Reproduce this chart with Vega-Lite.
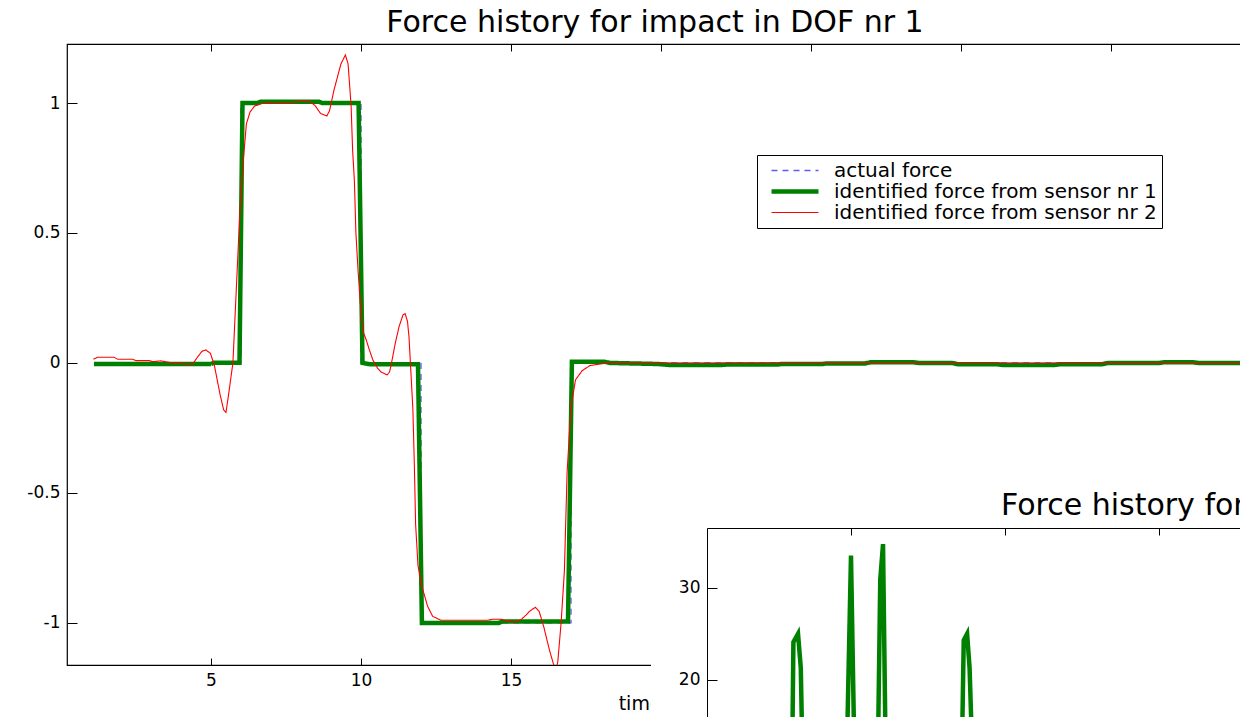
{
  "$schema": "https://vega.github.io/schema/vega-lite/v6.json",
  "background": "white",
  "padding": {"left": 26, "top": 7, "right": 0, "bottom": 0},
  "width": 1176,
  "height": 621,
  "title": {"text": "Force history for impact in DOF nr 1", "offset": 6, "font": "DejaVu Sans", "fontSize": 30, "fontWeight": "normal", "color": "black"},
  "config": {
    "font": "DejaVu Sans",
    "view": {"stroke": "black", "strokeWidth": 1.2},
    "axis": {"labelFont": "DejaVu Sans", "labelFontSize": 17, "labelColor": "black", "tickColor": "black", "domainColor": "black", "titleFont": "DejaVu Sans", "titleFontSize": 19, "titleFontWeight": "normal", "titleColor": "black", "grid": false, "tickWidth": 1}
  },
  "datasets": {
    "main": [
      {"s": "actual force", "t": 1.1, "f": 0},
      {"s": "actual force", "t": 6, "f": 0},
      {"s": "actual force", "t": 6, "f": 1},
      {"s": "actual force", "t": 10, "f": 1},
      {"s": "actual force", "t": 10, "f": 0},
      {"s": "actual force", "t": 12, "f": 0},
      {"s": "actual force", "t": 12, "f": -1},
      {"s": "actual force", "t": 17, "f": -1},
      {"s": "actual force", "t": 17, "f": 0},
      {"s": "actual force", "t": 40, "f": 0},

      {"s": "identified force from sensor nr 1", "t": 1.1, "f": -0.004},
      {"s": "identified force from sensor nr 1", "t": 5.0, "f": -0.004},
      {"s": "identified force from sensor nr 1", "t": 5.1, "f": 0.001},
      {"s": "identified force from sensor nr 1", "t": 5.95, "f": 0.001},
      {"s": "identified force from sensor nr 1", "t": 6.05, "f": 1.0},
      {"s": "identified force from sensor nr 1", "t": 6.55, "f": 1.0},
      {"s": "identified force from sensor nr 1", "t": 6.65, "f": 1.005},
      {"s": "identified force from sensor nr 1", "t": 8.6, "f": 1.005},
      {"s": "identified force from sensor nr 1", "t": 8.7, "f": 1.0},
      {"s": "identified force from sensor nr 1", "t": 9.92, "f": 1.0},
      {"s": "identified force from sensor nr 1", "t": 10.05, "f": 0.0},
      {"s": "identified force from sensor nr 1", "t": 10.3, "f": -0.005},
      {"s": "identified force from sensor nr 1", "t": 11.9, "f": -0.005},
      {"s": "identified force from sensor nr 1", "t": 12.03, "f": -1.0},
      {"s": "identified force from sensor nr 1", "t": 14.6, "f": -1.0},
      {"s": "identified force from sensor nr 1", "t": 14.7, "f": -0.995},
      {"s": "identified force from sensor nr 1", "t": 16.9, "f": -0.995},
      {"s": "identified force from sensor nr 1", "t": 17.03, "f": 0.005},
      {"s": "identified force from sensor nr 1", "t": 18.1, "f": 0.005},
      {"s": "identified force from sensor nr 1", "t": 18.3, "f": 0.0},
      {"s": "identified force from sensor nr 1", "t": 19.9, "f": -0.004},
      {"s": "identified force from sensor nr 1", "t": 20.3, "f": -0.008},
      {"s": "identified force from sensor nr 1", "t": 22.0, "f": -0.008},
      {"s": "identified force from sensor nr 1", "t": 22.2, "f": -0.006},
      {"s": "identified force from sensor nr 1", "t": 23.9, "f": -0.006},
      {"s": "identified force from sensor nr 1", "t": 24.0, "f": -0.004},
      {"s": "identified force from sensor nr 1", "t": 25.4, "f": -0.004},
      {"s": "identified force from sensor nr 1", "t": 25.5, "f": -0.002},
      {"s": "identified force from sensor nr 1", "t": 26.8, "f": -0.002},
      {"s": "identified force from sensor nr 1", "t": 27.0, "f": 0.003},
      {"s": "identified force from sensor nr 1", "t": 28.4, "f": 0.003},
      {"s": "identified force from sensor nr 1", "t": 28.6, "f": 0.0},
      {"s": "identified force from sensor nr 1", "t": 29.7, "f": 0.0},
      {"s": "identified force from sensor nr 1", "t": 29.9, "f": -0.005},
      {"s": "identified force from sensor nr 1", "t": 31.2, "f": -0.005},
      {"s": "identified force from sensor nr 1", "t": 31.4, "f": -0.008},
      {"s": "identified force from sensor nr 1", "t": 33.1, "f": -0.008},
      {"s": "identified force from sensor nr 1", "t": 33.3, "f": -0.005},
      {"s": "identified force from sensor nr 1", "t": 34.7, "f": -0.005},
      {"s": "identified force from sensor nr 1", "t": 34.9, "f": 0.0},
      {"s": "identified force from sensor nr 1", "t": 36.6, "f": 0.0},
      {"s": "identified force from sensor nr 1", "t": 36.8, "f": 0.003},
      {"s": "identified force from sensor nr 1", "t": 37.7, "f": 0.003},
      {"s": "identified force from sensor nr 1", "t": 37.9, "f": 0.0},
      {"s": "identified force from sensor nr 1", "t": 40, "f": 0.0},

      {"s": "identified force from sensor nr 2", "t": 1.08, "f": 0.014},
      {"s": "identified force from sensor nr 2", "t": 1.22, "f": 0.022},
      {"s": "identified force from sensor nr 2", "t": 1.77, "f": 0.022},
      {"s": "identified force from sensor nr 2", "t": 1.89, "f": 0.014},
      {"s": "identified force from sensor nr 2", "t": 2.39, "f": 0.014},
      {"s": "identified force from sensor nr 2", "t": 2.5, "f": 0.009},
      {"s": "identified force from sensor nr 2", "t": 2.94, "f": 0.009},
      {"s": "identified force from sensor nr 2", "t": 3.06, "f": 0.005},
      {"s": "identified force from sensor nr 2", "t": 3.33, "f": 0.008},
      {"s": "identified force from sensor nr 2", "t": 3.67, "f": 0.001},
      {"s": "identified force from sensor nr 2", "t": 3.89, "f": 0.0},
      {"s": "identified force from sensor nr 2", "t": 4.17, "f": -0.005},
      {"s": "identified force from sensor nr 2", "t": 4.39, "f": -0.004},
      {"s": "identified force from sensor nr 2", "t": 4.56, "f": 0.024},
      {"s": "identified force from sensor nr 2", "t": 4.7, "f": 0.045},
      {"s": "identified force from sensor nr 2", "t": 4.83, "f": 0.05},
      {"s": "identified force from sensor nr 2", "t": 4.98, "f": 0.037},
      {"s": "identified force from sensor nr 2", "t": 5.11, "f": -0.008},
      {"s": "identified force from sensor nr 2", "t": 5.3, "f": -0.12},
      {"s": "identified force from sensor nr 2", "t": 5.42, "f": -0.18},
      {"s": "identified force from sensor nr 2", "t": 5.5, "f": -0.19},
      {"s": "identified force from sensor nr 2", "t": 5.6, "f": -0.11},
      {"s": "identified force from sensor nr 2", "t": 5.73, "f": 0.0},
      {"s": "identified force from sensor nr 2", "t": 5.85, "f": 0.3},
      {"s": "identified force from sensor nr 2", "t": 5.97, "f": 0.6},
      {"s": "identified force from sensor nr 2", "t": 6.07, "f": 0.77},
      {"s": "identified force from sensor nr 2", "t": 6.18, "f": 0.92},
      {"s": "identified force from sensor nr 2", "t": 6.3, "f": 0.965},
      {"s": "identified force from sensor nr 2", "t": 6.45, "f": 0.988},
      {"s": "identified force from sensor nr 2", "t": 6.7, "f": 0.998},
      {"s": "identified force from sensor nr 2", "t": 7.5, "f": 1.0},
      {"s": "identified force from sensor nr 2", "t": 8.1, "f": 1.008},
      {"s": "identified force from sensor nr 2", "t": 8.3, "f": 1.005},
      {"s": "identified force from sensor nr 2", "t": 8.47, "f": 0.99},
      {"s": "identified force from sensor nr 2", "t": 8.65, "f": 0.96},
      {"s": "identified force from sensor nr 2", "t": 8.86, "f": 0.95},
      {"s": "identified force from sensor nr 2", "t": 8.95, "f": 0.97},
      {"s": "identified force from sensor nr 2", "t": 9.1, "f": 1.05},
      {"s": "identified force from sensor nr 2", "t": 9.33, "f": 1.15},
      {"s": "identified force from sensor nr 2", "t": 9.48, "f": 1.185},
      {"s": "identified force from sensor nr 2", "t": 9.57, "f": 1.15},
      {"s": "identified force from sensor nr 2", "t": 9.67, "f": 0.99},
      {"s": "identified force from sensor nr 2", "t": 9.72, "f": 0.82},
      {"s": "identified force from sensor nr 2", "t": 9.78, "f": 0.7},
      {"s": "identified force from sensor nr 2", "t": 9.83, "f": 0.5},
      {"s": "identified force from sensor nr 2", "t": 9.9, "f": 0.36},
      {"s": "identified force from sensor nr 2", "t": 9.97, "f": 0.24},
      {"s": "identified force from sensor nr 2", "t": 10.07, "f": 0.12},
      {"s": "identified force from sensor nr 2", "t": 10.17, "f": 0.09},
      {"s": "identified force from sensor nr 2", "t": 10.28, "f": 0.05},
      {"s": "identified force from sensor nr 2", "t": 10.4, "f": 0.01},
      {"s": "identified force from sensor nr 2", "t": 10.55, "f": -0.02},
      {"s": "identified force from sensor nr 2", "t": 10.67, "f": -0.035},
      {"s": "identified force from sensor nr 2", "t": 10.87, "f": -0.046},
      {"s": "identified force from sensor nr 2", "t": 10.95, "f": -0.035},
      {"s": "identified force from sensor nr 2", "t": 11.0, "f": -0.01},
      {"s": "identified force from sensor nr 2", "t": 11.15, "f": 0.08},
      {"s": "identified force from sensor nr 2", "t": 11.27, "f": 0.14},
      {"s": "identified force from sensor nr 2", "t": 11.4, "f": 0.185},
      {"s": "identified force from sensor nr 2", "t": 11.47, "f": 0.19},
      {"s": "identified force from sensor nr 2", "t": 11.55, "f": 0.16},
      {"s": "identified force from sensor nr 2", "t": 11.6, "f": 0.1},
      {"s": "identified force from sensor nr 2", "t": 11.67, "f": -0.05},
      {"s": "identified force from sensor nr 2", "t": 11.73, "f": -0.18},
      {"s": "identified force from sensor nr 2", "t": 11.78, "f": -0.4},
      {"s": "identified force from sensor nr 2", "t": 11.82, "f": -0.62},
      {"s": "identified force from sensor nr 2", "t": 11.9, "f": -0.78},
      {"s": "identified force from sensor nr 2", "t": 12.03, "f": -0.86},
      {"s": "identified force from sensor nr 2", "t": 12.22, "f": -0.936},
      {"s": "identified force from sensor nr 2", "t": 12.39, "f": -0.975},
      {"s": "identified force from sensor nr 2", "t": 12.67, "f": -0.99},
      {"s": "identified force from sensor nr 2", "t": 14.22, "f": -0.99},
      {"s": "identified force from sensor nr 2", "t": 14.39, "f": -0.986},
      {"s": "identified force from sensor nr 2", "t": 14.67, "f": -0.986},
      {"s": "identified force from sensor nr 2", "t": 14.89, "f": -0.993},
      {"s": "identified force from sensor nr 2", "t": 15.11, "f": -0.997},
      {"s": "identified force from sensor nr 2", "t": 15.33, "f": -0.988},
      {"s": "identified force from sensor nr 2", "t": 15.5, "f": -0.97},
      {"s": "identified force from sensor nr 2", "t": 15.61, "f": -0.956},
      {"s": "identified force from sensor nr 2", "t": 15.81, "f": -0.94},
      {"s": "identified force from sensor nr 2", "t": 15.94, "f": -0.956},
      {"s": "identified force from sensor nr 2", "t": 16.09, "f": -1.014},
      {"s": "identified force from sensor nr 2", "t": 16.28, "f": -1.104},
      {"s": "identified force from sensor nr 2", "t": 16.42, "f": -1.16},
      {"s": "identified force from sensor nr 2", "t": 16.5, "f": -1.18},
      {"s": "identified force from sensor nr 2", "t": 16.56, "f": -1.15},
      {"s": "identified force from sensor nr 2", "t": 16.67, "f": -1.0},
      {"s": "identified force from sensor nr 2", "t": 16.78, "f": -0.8},
      {"s": "identified force from sensor nr 2", "t": 16.87, "f": -0.42},
      {"s": "identified force from sensor nr 2", "t": 17.0, "f": -0.17},
      {"s": "identified force from sensor nr 2", "t": 17.15, "f": -0.065},
      {"s": "identified force from sensor nr 2", "t": 17.37, "f": -0.03},
      {"s": "identified force from sensor nr 2", "t": 17.63, "f": -0.01},
      {"s": "identified force from sensor nr 2", "t": 18.2, "f": 0.0},
      {"s": "identified force from sensor nr 2", "t": 40, "f": 0.0}
    ],
    "inset": [
      {"t": 0.35, "f": 0}, {"t": 2.9, "f": 0}, {"t": 3.105, "f": 16}, {"t": 3.13, "f": 24.1}, {"t": 3.28, "f": 25}, {"t": 3.37, "f": 21.3}, {"t": 3.4, "f": 16}, {"t": 3.6, "f": 0},
      {"t": 4.7, "f": 0}, {"t": 4.89, "f": 16}, {"t": 5.0, "f": 33.5}, {"t": 5.09, "f": 16}, {"t": 5.25, "f": 0},
      {"t": 5.75, "f": 0}, {"t": 5.89, "f": 16}, {"t": 5.95, "f": 30.9}, {"t": 6.04, "f": 34.75}, {"t": 6.11, "f": 16}, {"t": 6.3, "f": 0},
      {"t": 8.45, "f": 0}, {"t": 8.62, "f": 16}, {"t": 8.66, "f": 24.3}, {"t": 8.77, "f": 25}, {"t": 8.85, "f": 21.3}, {"t": 8.9, "f": 16}, {"t": 9.1, "f": 0},
      {"t": 20, "f": 0}
    ],
    "insettitle": [
      {"label": "Force history for impact in DOF nr 2"}
    ]
  },
  "layer": [
    {
      "data": {"name": "main"},
      "encoding": {
        "y": {"field": "f", "type": "quantitative", "scale": {"domain": [-1.162, 1.227], "nice": false, "zero": false},
              "axis": {"orient": "left", "values": [-1, -0.5, 0, 0.5, 1], "format": "~g", "tickSize": -10, "domain": false, "title": null, "labelPadding": 17, "labelExpr": "replace(datum.label, '\u2212', '-')"}},
        "color": {"field": "s", "type": "nominal",
                  "scale": {"domain": ["actual force", "identified force from sensor nr 1", "identified force from sensor nr 2"], "range": ["#5a5aff", "#008000", "#ff0000"]},
                  "legend": {"orient": "none", "legendX": 690, "legendY": 111, "title": null, "symbolType": "stroke", "symbolSize": 2209, "clipHeight": 21, "labelFontSize": 20, "labelFont": "DejaVu Sans", "labelColor": "black", "strokeColor": "black", "fillColor": "white", "padding": 5, "rowPadding": 0, "labelOffset": 13, "symbolOffset": 7, "labelLimit": 600, "cornerRadius": 0}},
        "strokeDash": {"field": "s", "type": "nominal",
                       "scale": {"domain": ["actual force", "identified force from sensor nr 1", "identified force from sensor nr 2"], "range": [[6, 5], [1, 0], [1, 0]]},
                       "legend": {"orient": "none", "legendX": 690, "legendY": 111, "title": null, "symbolType": "stroke", "symbolSize": 2209, "clipHeight": 21, "labelFontSize": 20, "labelFont": "DejaVu Sans", "labelColor": "black", "strokeColor": "black", "fillColor": "white", "padding": 5, "rowPadding": 0, "labelOffset": 13, "symbolOffset": 7, "labelLimit": 600, "cornerRadius": 0}},
        "strokeWidth": {"field": "s", "type": "nominal",
                        "scale": {"type": "ordinal", "domain": ["actual force", "identified force from sensor nr 1", "identified force from sensor nr 2"], "range": [1.3, 4.5, 1.1]},
                        "legend": {"orient": "none", "legendX": 690, "legendY": 111, "title": null, "symbolType": "stroke", "symbolSize": 2209, "clipHeight": 21, "labelFontSize": 20, "labelFont": "DejaVu Sans", "labelColor": "black", "strokeColor": "black", "fillColor": "white", "padding": 5, "rowPadding": 0, "labelOffset": 13, "symbolOffset": 7, "labelLimit": 600, "cornerRadius": 0}}
      },
      "layer": [
        {
          "transform": [{"filter": {"field": "s", "equal": "actual force"}}],
          "mark": {"type": "line", "clip": true},
          "encoding": {
            "x": {"field": "t", "type": "quantitative", "scale": {"domain": [0.2, 39.4], "nice": false, "zero": false},
                  "axis": {"orient": "bottom", "values": [5, 10, 15, 20, 25, 30, 35], "tickSize": -7, "domain": false, "title": "time [s]", "labelPadding": 14, "titlePadding": 6}}
          }
        },
        {
          "transform": [{"filter": {"field": "s", "equal": "identified force from sensor nr 1"}}],
          "mark": {"type": "line", "clip": true},
          "encoding": {
            "x": {"field": "t", "type": "quantitative", "scale": {"domain": [0.2, 39.4], "nice": false, "zero": false},
                  "axis": {"orient": "top", "values": [5, 10, 15, 20, 25, 30, 35], "tickSize": -7, "domain": false, "labels": false, "title": null}}
          }
        },
        {
          "transform": [{"filter": {"field": "s", "equal": "identified force from sensor nr 2"}}],
          "mark": {"type": "line", "clip": true},
          "encoding": {
            "x": {"field": "t", "type": "quantitative", "scale": {"domain": [0.2, 39.4], "nice": false, "zero": false}, "axis": null}
          }
        }
      ],
      "resolve": {"axis": {"x": "independent"}}
    },
    {
      "encoding": {
        "x": {"type": "quantitative",
              "scale": {"domain": [0.325, 20], "range": [640, 1246], "nice": false, "zero": false},
              "axis": {"orient": "top", "offset": -484, "values": [5, 10, 15, 20], "tickSize": -7, "domain": true, "labels": false, "title": null, "zindex": 1}},
        "y": {"type": "quantitative",
              "scale": {"domain": [0, 36.5], "range": [820, 484], "nice": false, "zero": false},
              "axis": {"orient": "left", "offset": -640, "values": [0, 10, 20, 30], "tickSize": -10, "domain": true, "title": null, "labelPadding": 17, "zindex": 1}}
      },
      "layer": [
        {
          "data": {"name": "insettitle"},
          "mark": {"type": "rect", "fill": "white", "stroke": null},
          "encoding": {
            "x": {"datum": -1.494},
            "x2": {"datum": 20},
            "y": {"datum": 36.5},
            "y2": {"datum": -20}
          }
        },
        {
          "data": {"name": "inset"},
          "mark": {"type": "line", "color": "#008000", "strokeWidth": 4.5},
          "encoding": {
            "x": {"field": "t"},
            "y": {"field": "f"}
          }
        },
        {
          "data": {"name": "insettitle"},
          "mark": {"type": "text", "align": "left", "baseline": "alphabetic", "dy": -13, "fontSize": 30, "font": "DejaVu Sans", "color": "black"},
          "encoding": {
            "x": {"datum": 9.87},
            "y": {"datum": 36.5},
            "text": {"field": "label"}
          }
        }
      ]
    }
  ],
  "resolve": {"scale": {"x": "independent", "y": "independent"}}
}
